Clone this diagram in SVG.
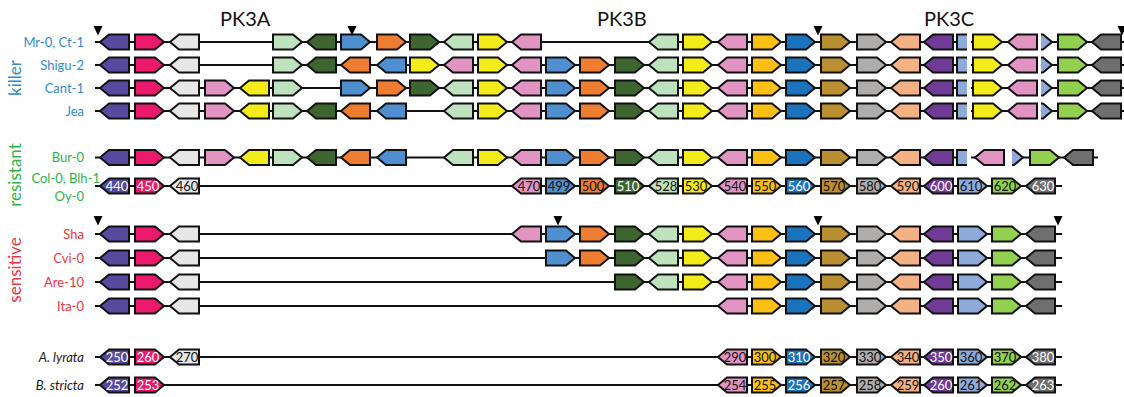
<svg xmlns="http://www.w3.org/2000/svg" xmlns:xlink="http://www.w3.org/1999/xlink" width="1124" height="397" viewBox="0 0 1124 397">
  <style>
    text { font-family: Lato, "Liberation Sans", sans-serif; }
    .title { font-size: 20px; fill: #111; }
    .strain { font-size: 13px; text-anchor: end; }
    .grp { font-size: 17px; text-anchor: middle; }
    .kil { fill: #2f8ccc; }
    .res { fill: #2db34a; }
    .sen { fill: #f0353f; }
    .sp { fill: #1a1a1a; font-style: italic; }
    .bb { stroke: #111; stroke-width: 2; fill: none; }
    .gene { stroke: #111; stroke-width: 2; stroke-linejoin: miter; }
    .ins { fill: #000; }
    .num { font-size: 13px; text-anchor: middle; fill: #111; }
    .num.w { fill: #fff; }
    .c440 { fill: #574a9e; }
    .c450 { fill: #ec1a6c; }
    .c460 { fill: #e6e6e6; }
    .c470 { fill: #e194c2; }
    .c499 { fill: #4f8fd0; }
    .c500 { fill: #ef7d31; }
    .c510 { fill: #3e652f; }
    .c528 { fill: #bde2bd; }
    .c530 { fill: #f4eb1a; }
    .c550 { fill: #fcc015; }
    .c560 { fill: #1b72bd; }
    .c570 { fill: #b98f31; }
    .c580 { fill: #afadab; }
    .c590 { fill: #f4b183; }
    .c600 { fill: #703a97; }
    .c610 { fill: #8eaadb; }
    .c620 { fill: #92d050; }
    .c630 { fill: #706f6f; }
  </style>
  <defs>
    <!-- gene arrows: right- and left-pointing, anchored at left edge / mid-height -->
    <polygon id="R" points="0,-7.5 20,-7.5 29,0 20,7.5 0,7.5"/>
    <polygon id="L" points="0,0 9,-7.5 29,-7.5 29,7.5 9,7.5"/>
    <!-- split gene pieces (open on the cut side) -->
    <g id="cutA"><rect x="0" y="-7.5" width="10" height="15" stroke="none"/><path d="M10,-7.5H0V7.5H10" fill="none"/></g>
    <g id="cutB"><polygon points="0,-7.5 2,-7.5 11,0 2,7.5 0,7.5" stroke="none"/><path d="M0,-7.5H2L11,0L2,7.5H0" fill="none"/></g>
    <polygon id="tri" points="-4.5,0 4.5,0 0,9.5"/>
  </defs>

  <!-- cluster titles -->
  <g id="titles">
    <text class="title" x="220" y="26">PK3A</text>
    <text class="title" x="597" y="26">PK3B</text>
    <text class="title" x="924" y="26">PK3C</text>
  </g>

  <!-- phenotype groups -->
  <g id="groups">
    <text class="grp kil" transform="translate(21,78) rotate(-90)">killer</text>
    <text class="grp res" transform="translate(21,175) rotate(-90)">resistant</text>
    <text class="grp sen" transform="translate(21,270) rotate(-90)">sensitive</text>
  </g>

  <!-- chromosome backbones -->
  <g id="connectors" class="bb">
    <path d="M95,42H967M971,42H1037M1041,42H1124"/>
    <path d="M95,65H967M971,65H1037M1041,65H1124"/>
    <path d="M95,88H967M971,88H1037M1041,88H1124"/>
    <path d="M95,111H967M971,111H1037M1041,111H1124"/>
    <path d="M95,157.5H967M971,157.5H1005M1012,157.5H1098"/>
    <path d="M95,186H1062"/>
    <path d="M95,234H1062"/>
    <path d="M95,258H1062"/>
    <path d="M95,282H1062"/>
    <path d="M95,306H1062"/>
    <path d="M95,357H1062"/>
    <path d="M95,385H1062"/>
  </g>

  <!-- insertion sites -->
  <g id="insertions" class="ins">
    <use href="#tri" x="98" y="26"/>
    <use href="#tri" x="352" y="26"/>
    <use href="#tri" x="818" y="26"/>
    <use href="#tri" x="1122" y="26"/>
    <use href="#tri" x="98" y="216"/>
    <use href="#tri" x="558" y="216"/>
    <use href="#tri" x="818" y="216"/>
    <use href="#tri" x="1058" y="216"/>
  </g>

  <!-- Mr-0, Ct-1 -->
  <g id="row-mr0" class="gene">
    <text class="strain kil" x="84" y="46.5" stroke="none">Mr-0, Ct-1</text>
    <use href="#L" x="100" y="42" class="c440"/>
    <use href="#R" x="135" y="42" class="c450"/>
    <use href="#L" x="170" y="42" class="c460"/>
    <use href="#R" x="273" y="42" class="c528"/>
    <use href="#L" x="307" y="42" class="c510"/>
    <use href="#R" x="341" y="42" class="c499"/>
    <use href="#R" x="377" y="42" class="c500"/>
    <use href="#R" x="410" y="42" class="c510"/>
    <use href="#L" x="444" y="42" class="c528"/>
    <use href="#R" x="478" y="42" class="c530"/>
    <use href="#L" x="512" y="42" class="c470"/>
    <use href="#L" x="649" y="42" class="c528"/>
    <use href="#R" x="683" y="42" class="c530"/>
    <use href="#L" x="718" y="42" class="c470"/>
    <use href="#R" x="752" y="42" class="c550"/>
    <use href="#R" x="786" y="42" class="c560"/>
    <use href="#R" x="821" y="42" class="c570"/>
    <use href="#R" x="857" y="42" class="c580"/>
    <use href="#L" x="891" y="42" class="c590"/>
    <use href="#L" x="924" y="42" class="c600"/>
    <use href="#cutA" x="957" y="42" class="c610"/>
    <use href="#R" x="973" y="42" class="c530"/>
    <use href="#L" x="1008" y="42" class="c470"/>
    <use href="#cutB" x="1041" y="42" class="c610"/>
    <use href="#R" x="1058" y="42" class="c620"/>
    <use href="#L" x="1092" y="42" class="c630"/>
  </g>

  <!-- Shigu-2 -->
  <g id="row-shigu2" class="gene">
    <text class="strain kil" x="84" y="69.5" stroke="none">Shigu-2</text>
    <use href="#L" x="100" y="65" class="c440"/>
    <use href="#R" x="135" y="65" class="c450"/>
    <use href="#L" x="170" y="65" class="c460"/>
    <use href="#R" x="273" y="65" class="c528"/>
    <use href="#L" x="307" y="65" class="c510"/>
    <use href="#L" x="341" y="65" class="c500"/>
    <use href="#L" x="377" y="65" class="c499"/>
    <use href="#R" x="410" y="65" class="c530"/>
    <use href="#L" x="444" y="65" class="c470"/>
    <use href="#R" x="478" y="65" class="c530"/>
    <use href="#L" x="512" y="65" class="c470"/>
    <use href="#R" x="546" y="65" class="c499"/>
    <use href="#R" x="580" y="65" class="c500"/>
    <use href="#R" x="615" y="65" class="c510"/>
    <use href="#L" x="649" y="65" class="c528"/>
    <use href="#R" x="683" y="65" class="c530"/>
    <use href="#L" x="718" y="65" class="c470"/>
    <use href="#R" x="752" y="65" class="c550"/>
    <use href="#R" x="786" y="65" class="c560"/>
    <use href="#R" x="821" y="65" class="c570"/>
    <use href="#R" x="857" y="65" class="c580"/>
    <use href="#L" x="891" y="65" class="c590"/>
    <use href="#L" x="924" y="65" class="c600"/>
    <use href="#cutA" x="957" y="65" class="c610"/>
    <use href="#R" x="973" y="65" class="c530"/>
    <use href="#L" x="1008" y="65" class="c470"/>
    <use href="#cutB" x="1041" y="65" class="c610"/>
    <use href="#R" x="1058" y="65" class="c620"/>
    <use href="#L" x="1092" y="65" class="c630"/>
  </g>

  <!-- Cant-1 -->
  <g id="row-cant1" class="gene">
    <text class="strain kil" x="84" y="92.5" stroke="none">Cant-1</text>
    <use href="#L" x="100" y="88" class="c440"/>
    <use href="#R" x="135" y="88" class="c450"/>
    <use href="#L" x="170" y="88" class="c460"/>
    <use href="#R" x="205" y="88" class="c470"/>
    <use href="#L" x="240" y="88" class="c530"/>
    <use href="#R" x="273" y="88" class="c528"/>
    <use href="#R" x="341" y="88" class="c499"/>
    <use href="#R" x="377" y="88" class="c500"/>
    <use href="#R" x="410" y="88" class="c510"/>
    <use href="#L" x="444" y="88" class="c528"/>
    <use href="#R" x="478" y="88" class="c530"/>
    <use href="#L" x="512" y="88" class="c470"/>
    <use href="#R" x="546" y="88" class="c499"/>
    <use href="#R" x="580" y="88" class="c500"/>
    <use href="#R" x="615" y="88" class="c510"/>
    <use href="#L" x="649" y="88" class="c528"/>
    <use href="#R" x="683" y="88" class="c530"/>
    <use href="#L" x="718" y="88" class="c470"/>
    <use href="#R" x="752" y="88" class="c550"/>
    <use href="#R" x="786" y="88" class="c560"/>
    <use href="#R" x="821" y="88" class="c570"/>
    <use href="#R" x="857" y="88" class="c580"/>
    <use href="#L" x="891" y="88" class="c590"/>
    <use href="#L" x="924" y="88" class="c600"/>
    <use href="#cutA" x="957" y="88" class="c610"/>
    <use href="#R" x="973" y="88" class="c530"/>
    <use href="#L" x="1008" y="88" class="c470"/>
    <use href="#cutB" x="1041" y="88" class="c610"/>
    <use href="#R" x="1058" y="88" class="c620"/>
    <use href="#L" x="1092" y="88" class="c630"/>
  </g>

  <!-- Jea -->
  <g id="row-jea" class="gene">
    <text class="strain kil" x="84" y="115.5" stroke="none">Jea</text>
    <use href="#L" x="100" y="111" class="c440"/>
    <use href="#R" x="135" y="111" class="c450"/>
    <use href="#L" x="170" y="111" class="c460"/>
    <use href="#R" x="205" y="111" class="c470"/>
    <use href="#L" x="240" y="111" class="c530"/>
    <use href="#R" x="273" y="111" class="c528"/>
    <use href="#L" x="307" y="111" class="c510"/>
    <use href="#L" x="341" y="111" class="c500"/>
    <use href="#L" x="377" y="111" class="c499"/>
    <use href="#L" x="444" y="111" class="c528"/>
    <use href="#R" x="478" y="111" class="c530"/>
    <use href="#L" x="512" y="111" class="c470"/>
    <use href="#R" x="546" y="111" class="c499"/>
    <use href="#R" x="580" y="111" class="c500"/>
    <use href="#R" x="615" y="111" class="c510"/>
    <use href="#L" x="649" y="111" class="c528"/>
    <use href="#R" x="683" y="111" class="c530"/>
    <use href="#L" x="718" y="111" class="c470"/>
    <use href="#R" x="752" y="111" class="c550"/>
    <use href="#R" x="786" y="111" class="c560"/>
    <use href="#R" x="821" y="111" class="c570"/>
    <use href="#R" x="857" y="111" class="c580"/>
    <use href="#L" x="891" y="111" class="c590"/>
    <use href="#L" x="924" y="111" class="c600"/>
    <use href="#cutA" x="957" y="111" class="c610"/>
    <use href="#R" x="973" y="111" class="c530"/>
    <use href="#L" x="1008" y="111" class="c470"/>
    <use href="#cutB" x="1041" y="111" class="c610"/>
    <use href="#R" x="1058" y="111" class="c620"/>
    <use href="#L" x="1092" y="111" class="c630"/>
  </g>

  <!-- Bur-0 -->
  <g id="row-bur0" class="gene">
    <text class="strain res" x="84" y="162" stroke="none">Bur-0</text>
    <use href="#L" x="100" y="157.5" class="c440"/>
    <use href="#R" x="135" y="157.5" class="c450"/>
    <use href="#L" x="170" y="157.5" class="c460"/>
    <use href="#R" x="205" y="157.5" class="c470"/>
    <use href="#L" x="240" y="157.5" class="c530"/>
    <use href="#R" x="273" y="157.5" class="c528"/>
    <use href="#L" x="307" y="157.5" class="c510"/>
    <use href="#L" x="341" y="157.5" class="c500"/>
    <use href="#L" x="377" y="157.5" class="c499"/>
    <use href="#L" x="444" y="157.5" class="c528"/>
    <use href="#R" x="478" y="157.5" class="c530"/>
    <use href="#L" x="512" y="157.5" class="c470"/>
    <use href="#R" x="546" y="157.5" class="c499"/>
    <use href="#R" x="580" y="157.5" class="c500"/>
    <use href="#R" x="615" y="157.5" class="c510"/>
    <use href="#L" x="649" y="157.5" class="c528"/>
    <use href="#R" x="683" y="157.5" class="c530"/>
    <use href="#L" x="718" y="157.5" class="c470"/>
    <use href="#R" x="752" y="157.5" class="c550"/>
    <use href="#R" x="786" y="157.5" class="c560"/>
    <use href="#R" x="821" y="157.5" class="c570"/>
    <use href="#R" x="857" y="157.5" class="c580"/>
    <use href="#L" x="891" y="157.5" class="c590"/>
    <use href="#L" x="924" y="157.5" class="c600"/>
    <use href="#cutA" x="957" y="157.5" class="c610"/>
    <use href="#L" x="975" y="157.5" class="c470"/>
    <use href="#cutB" x="1012" y="157.5" class="c610"/>
    <use href="#R" x="1030" y="157.5" class="c620"/>
    <use href="#L" x="1064" y="157.5" class="c630"/>
  </g>

  <!-- Col-0, Blh-1, Oy-0 (reference numbering) -->
  <g id="row-col0" class="gene">
    <text class="strain res" x="100" y="183" stroke="none">Col-0, Blh-1</text>
    <text class="strain res" x="84" y="201" stroke="none">Oy-0</text>
    <use href="#L" x="100" y="186" class="c440"/>
    <use href="#R" x="135" y="186" class="c450"/>
    <use href="#L" x="170" y="186" class="c460"/>
    <use href="#L" x="512" y="186" class="c470"/>
    <use href="#R" x="546" y="186" class="c499"/>
    <use href="#R" x="580" y="186" class="c500"/>
    <use href="#R" x="615" y="186" class="c510"/>
    <use href="#L" x="649" y="186" class="c528"/>
    <use href="#R" x="683" y="186" class="c530"/>
    <use href="#L" x="718" y="186" class="c470"/>
    <use href="#R" x="752" y="186" class="c550"/>
    <use href="#R" x="786" y="186" class="c560"/>
    <use href="#R" x="821" y="186" class="c570"/>
    <use href="#R" x="857" y="186" class="c580"/>
    <use href="#L" x="891" y="186" class="c590"/>
    <use href="#L" x="924" y="186" class="c600"/>
    <use href="#R" x="958" y="186" class="c610"/>
    <use href="#R" x="992" y="186" class="c620"/>
    <use href="#L" x="1026" y="186" class="c630"/>
    <g stroke="none">
      <text class="num w" x="117" y="190.5">440</text>
      <text class="num w" x="148" y="190.5">450</text>
      <text class="num" x="187" y="190.5">460</text>
      <text class="num" x="529" y="190.5">470</text>
      <text class="num" x="559" y="190.5">499</text>
      <text class="num" x="593" y="190.5">500</text>
      <text class="num w" x="628" y="190.5">510</text>
      <text class="num" x="666" y="190.5">528</text>
      <text class="num" x="696" y="190.5">530</text>
      <text class="num" x="735" y="190.5">540</text>
      <text class="num" x="765" y="190.5">550</text>
      <text class="num w" x="799" y="190.5">560</text>
      <text class="num" x="834" y="190.5">570</text>
      <text class="num" x="870" y="190.5">580</text>
      <text class="num" x="908" y="190.5">590</text>
      <text class="num w" x="941" y="190.5">600</text>
      <text class="num" x="971" y="190.5">610</text>
      <text class="num" x="1005" y="190.5">620</text>
      <text class="num w" x="1043" y="190.5">630</text>
    </g>
  </g>

  <!-- Sha -->
  <g id="row-sha" class="gene">
    <text class="strain sen" x="84" y="238.5" stroke="none">Sha</text>
    <use href="#L" x="100" y="234" class="c440"/>
    <use href="#R" x="135" y="234" class="c450"/>
    <use href="#L" x="170" y="234" class="c460"/>
    <use href="#L" x="512" y="234" class="c470"/>
    <use href="#R" x="546" y="234" class="c499"/>
    <use href="#R" x="580" y="234" class="c500"/>
    <use href="#R" x="615" y="234" class="c510"/>
    <use href="#L" x="649" y="234" class="c528"/>
    <use href="#R" x="683" y="234" class="c530"/>
    <use href="#L" x="718" y="234" class="c470"/>
    <use href="#R" x="752" y="234" class="c550"/>
    <use href="#R" x="786" y="234" class="c560"/>
    <use href="#R" x="821" y="234" class="c570"/>
    <use href="#R" x="857" y="234" class="c580"/>
    <use href="#L" x="891" y="234" class="c590"/>
    <use href="#L" x="924" y="234" class="c600"/>
    <use href="#R" x="958" y="234" class="c610"/>
    <use href="#R" x="992" y="234" class="c620"/>
    <use href="#L" x="1026" y="234" class="c630"/>
  </g>

  <!-- Cvi-0 -->
  <g id="row-cvi0" class="gene">
    <text class="strain sen" x="84" y="262.5" stroke="none">Cvi-0</text>
    <use href="#L" x="100" y="258" class="c440"/>
    <use href="#R" x="135" y="258" class="c450"/>
    <use href="#L" x="170" y="258" class="c460"/>
    <use href="#R" x="546" y="258" class="c499"/>
    <use href="#R" x="580" y="258" class="c500"/>
    <use href="#R" x="615" y="258" class="c510"/>
    <use href="#L" x="649" y="258" class="c528"/>
    <use href="#R" x="683" y="258" class="c530"/>
    <use href="#L" x="718" y="258" class="c470"/>
    <use href="#R" x="752" y="258" class="c550"/>
    <use href="#R" x="786" y="258" class="c560"/>
    <use href="#R" x="821" y="258" class="c570"/>
    <use href="#R" x="857" y="258" class="c580"/>
    <use href="#L" x="891" y="258" class="c590"/>
    <use href="#L" x="924" y="258" class="c600"/>
    <use href="#R" x="958" y="258" class="c610"/>
    <use href="#R" x="992" y="258" class="c620"/>
    <use href="#L" x="1026" y="258" class="c630"/>
  </g>

  <!-- Are-10 -->
  <g id="row-are10" class="gene">
    <text class="strain sen" x="84" y="286.5" stroke="none">Are-10</text>
    <use href="#L" x="100" y="282" class="c440"/>
    <use href="#R" x="135" y="282" class="c450"/>
    <use href="#L" x="170" y="282" class="c460"/>
    <use href="#R" x="615" y="282" class="c510"/>
    <use href="#L" x="649" y="282" class="c528"/>
    <use href="#R" x="683" y="282" class="c530"/>
    <use href="#L" x="718" y="282" class="c470"/>
    <use href="#R" x="752" y="282" class="c550"/>
    <use href="#R" x="786" y="282" class="c560"/>
    <use href="#R" x="821" y="282" class="c570"/>
    <use href="#R" x="857" y="282" class="c580"/>
    <use href="#L" x="891" y="282" class="c590"/>
    <use href="#L" x="924" y="282" class="c600"/>
    <use href="#R" x="958" y="282" class="c610"/>
    <use href="#R" x="992" y="282" class="c620"/>
    <use href="#L" x="1026" y="282" class="c630"/>
  </g>

  <!-- Ita-0 -->
  <g id="row-ita0" class="gene">
    <text class="strain sen" x="84" y="310.5" stroke="none">Ita-0</text>
    <use href="#L" x="100" y="306" class="c440"/>
    <use href="#R" x="135" y="306" class="c450"/>
    <use href="#L" x="170" y="306" class="c460"/>
    <use href="#L" x="718" y="306" class="c470"/>
    <use href="#R" x="752" y="306" class="c550"/>
    <use href="#R" x="786" y="306" class="c560"/>
    <use href="#R" x="821" y="306" class="c570"/>
    <use href="#R" x="857" y="306" class="c580"/>
    <use href="#L" x="891" y="306" class="c590"/>
    <use href="#L" x="924" y="306" class="c600"/>
    <use href="#R" x="958" y="306" class="c610"/>
    <use href="#R" x="992" y="306" class="c620"/>
    <use href="#L" x="1026" y="306" class="c630"/>
  </g>

  <!-- Arabidopsis lyrata -->
  <g id="row-alyrata" class="gene">
    <text class="strain sp" x="84" y="361.5" stroke="none">A. lyrata</text>
    <use href="#L" x="100" y="357" class="c440"/>
    <use href="#R" x="135" y="357" class="c450"/>
    <use href="#L" x="170" y="357" class="c460"/>
    <use href="#L" x="718" y="357" class="c470"/>
    <use href="#R" x="752" y="357" class="c550"/>
    <use href="#R" x="786" y="357" class="c560"/>
    <use href="#R" x="821" y="357" class="c570"/>
    <use href="#R" x="857" y="357" class="c580"/>
    <use href="#L" x="891" y="357" class="c590"/>
    <use href="#L" x="924" y="357" class="c600"/>
    <use href="#R" x="958" y="357" class="c610"/>
    <use href="#R" x="992" y="357" class="c620"/>
    <use href="#L" x="1026" y="357" class="c630"/>
    <g stroke="none">
      <text class="num w" x="117" y="361.5">250</text>
      <text class="num w" x="148" y="361.5">260</text>
      <text class="num" x="187" y="361.5">270</text>
      <text class="num" x="735" y="361.5">290</text>
      <text class="num" x="765" y="361.5">300</text>
      <text class="num w" x="799" y="361.5">310</text>
      <text class="num" x="834" y="361.5">320</text>
      <text class="num" x="870" y="361.5">330</text>
      <text class="num" x="908" y="361.5">340</text>
      <text class="num w" x="941" y="361.5">350</text>
      <text class="num" x="971" y="361.5">360</text>
      <text class="num" x="1005" y="361.5">370</text>
      <text class="num w" x="1043" y="361.5">380</text>
    </g>
  </g>

  <!-- Boechera stricta -->
  <g id="row-bstricta" class="gene">
    <text class="strain sp" x="84" y="389.5" stroke="none">B. stricta</text>
    <use href="#L" x="100" y="385" class="c440"/>
    <use href="#R" x="135" y="385" class="c450"/>
    <use href="#L" x="718" y="385" class="c470"/>
    <use href="#R" x="752" y="385" class="c550"/>
    <use href="#R" x="786" y="385" class="c560"/>
    <use href="#R" x="821" y="385" class="c570"/>
    <use href="#R" x="857" y="385" class="c580"/>
    <use href="#L" x="891" y="385" class="c590"/>
    <use href="#L" x="924" y="385" class="c600"/>
    <use href="#R" x="958" y="385" class="c610"/>
    <use href="#R" x="992" y="385" class="c620"/>
    <use href="#L" x="1026" y="385" class="c630"/>
    <g stroke="none">
      <text class="num w" x="117" y="389.5">252</text>
      <text class="num w" x="148" y="389.5">253</text>
      <text class="num" x="735" y="389.5">254</text>
      <text class="num" x="765" y="389.5">255</text>
      <text class="num w" x="799" y="389.5">256</text>
      <text class="num" x="834" y="389.5">257</text>
      <text class="num" x="870" y="389.5">258</text>
      <text class="num" x="908" y="389.5">259</text>
      <text class="num w" x="941" y="389.5">260</text>
      <text class="num" x="971" y="389.5">261</text>
      <text class="num" x="1005" y="389.5">262</text>
      <text class="num w" x="1043" y="389.5">263</text>
    </g>
  </g>
</svg>
